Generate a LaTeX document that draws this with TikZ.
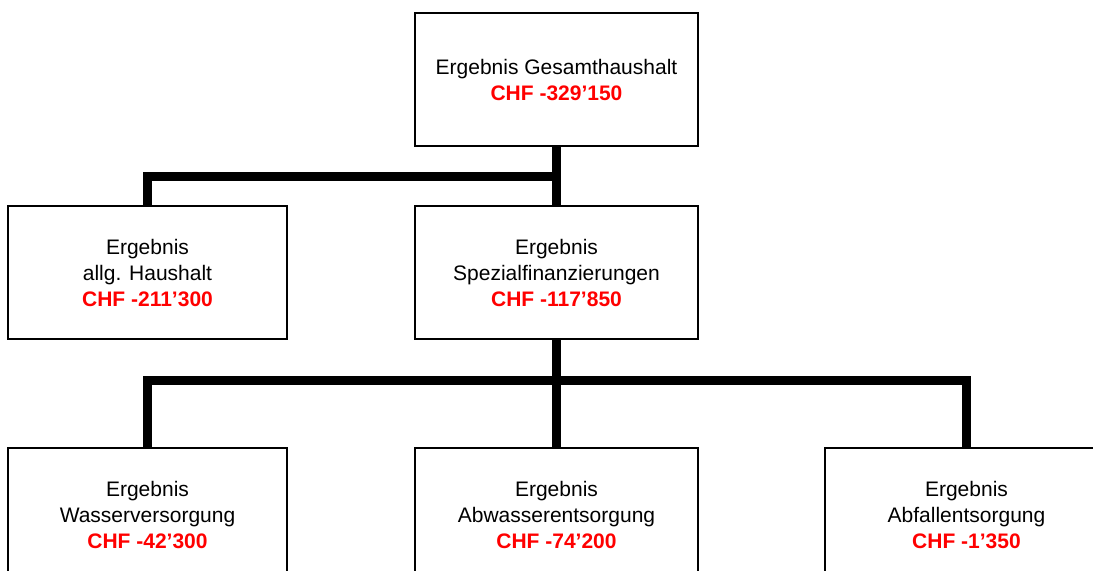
\documentclass[tikz,border=0pt]{standalone}
\usepackage{fontspec}
\setmainfont{Liberation Sans}
\usepackage{tikz}
\usetikzlibrary{
	positioning,
	calc
}

\tikzset{
	konto/.style={draw, line width=1pt, minimum width=141.5pt, minimum height=66.5pt,
		inner sep=0pt, align=center, font=\fontsize{10.5}{13}\selectfont},
	schmal/.style={minimum width=139.5pt},
	link/.style={line width=4.8pt}
}
\newcommand{\betrag}[1]{\textcolor{red}{\bfseries CHF #1}}

\begin{document}
\begin{tikzpicture}[x=0.5pt,y=-0.5pt]
		\useasboundingbox (0,0) rectangle (1093,571);
		\draw
			node[konto] (gesamt) at (556.5,80) {Ergebnis Gesamthaushalt\\\betrag{-329’150}}
			node[konto,below=29pt of gesamt]          (spezial)  {Ergebnis\\Spezialfinanzierungen\\\betrag{-117’850}}
			node[konto,schmal,left=63pt of spezial]   (allg)     {Ergebnis\\allg. Haushalt\\\betrag{-211’300}}
			node[konto,below=53.5pt of spezial]       (abwasser) {Ergebnis\\Abwasserentsorgung\\\betrag{-74’200}}
			node[konto,schmal,left=63pt of abwasser]  (wasser)   {Ergebnis\\Wasserversorgung\\\betrag{-42’300}}
			node[konto,right=62.5pt of abwasser]      (abfall)   {Ergebnis\\Abfallentsorgung\\\betrag{-1’350}}
		;
		\coordinate (knoten1) at ($(gesamt.south)!0.5!(spezial.north)$);
		\coordinate (knoten2) at ([yshift=-20pt]spezial.south);

		\draw[link] (gesamt.south) -- (spezial.north);
		\draw[link] (knoten1) -| (allg.north);
		\draw[link] (spezial.south) -- (abwasser.north);
		\draw[link] (wasser.north) |- (knoten2) -| (abfall.north);
	\end{tikzpicture}
\end{document}
